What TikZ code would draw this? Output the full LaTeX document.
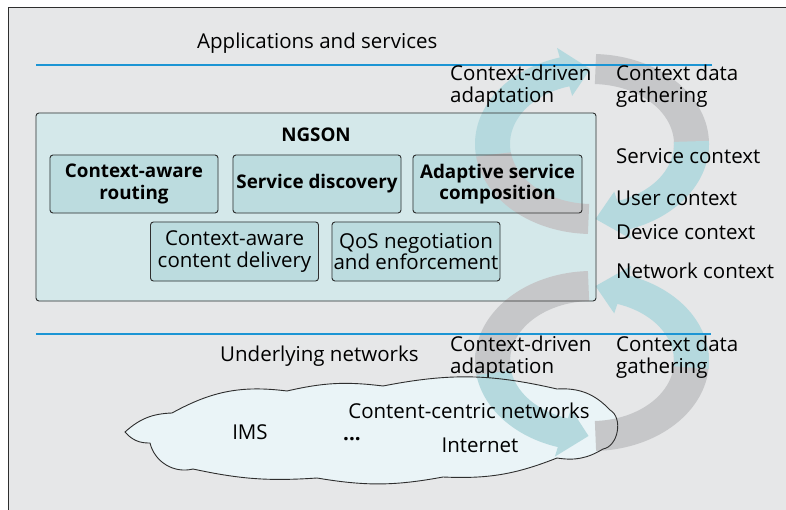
\documentclass[tikz,border=0pt]{standalone}
\usepackage{fontspec}
\setmainfont{Open Sans}
\usepackage{tikz}
\definecolor{paper}{HTML}{E6E7E8}
\definecolor{sepblue}{HTML}{1C95D4}
\definecolor{boxline}{HTML}{2E2E2E}
\definecolor{ngsonfill}{HTML}{D4E8EA}
\definecolor{modfill}{HTML}{BCDCDF}
\definecolor{cloudfill}{HTML}{EAF4F7}
\definecolor{bandgray}{HTML}{C6C7C9}
\definecolor{bandteal}{HTML}{B5D9DE}

\pgfdeclarelayer{back}
\pgfdeclarelayer{bands}
\pgfsetlayers{back,bands,main}

% ring pieces: center y, from angle, to angle, style
\newcommand{\ringband}[4]{%
  \fill[#4] plot[domain=#2:#3,samples=40] ({592+117*cos(\x)},{#1+90*sin(\x)})
    -- plot[domain=#3:#2,samples=40] ({592+82*cos(\x)},{#1+60*sin(\x)}) -- cycle;}
% center y, from angle, base angle, tip angle, style
\newcommand{\ringarrow}[5]{%
  \fill[#5] plot[domain=#2:#3,samples=40] ({592+117*cos(\x)},{#1+90*sin(\x)})
    -- ({592+127*cos(#3)},{#1+100*sin(#3)})
    -- ({592+99.5*cos(#4)},{#1+75*sin(#4)})
    -- ({592+72*cos(#3)},{#1+50*sin(#3)})
    -- plot[domain=#3:#2,samples=40] ({592+82*cos(\x)},{#1+60*sin(\x)}) -- cycle;}
\newcommand{\netcloud}[1]{%
  \path[#1] (125,432) to[bend left=20] (172,413) to[bend left=18] (287,391)
    to[bend left=10] (383,386) to[bend left=12] (557,389) to[bend left=25] (610,410)
    to[bend left=70] (603,449) to[bend left=20] (557,458) to[bend left=12] (443,477)
    to[bend left=10] (317,478) to[bend left=8] (193,469) to[bend left=45] (150,443)
    to[bend left=25] (125,432) -- cycle;}

\begin{document}
\begin{tikzpicture}[x=1pt,y=-1pt]
\tikzstyle{module} = [draw=boxline, line width=0.9pt, rounded corners=3pt, minimum width=168pt, minimum height=58pt, align=center, inner sep=1pt, font=\fontsize{20.5}{21.5}\selectfont]
\tikzstyle{keymodule} = [module, font=\bfseries\fontsize{18.8}{21.5}\selectfont]
\tikzstyle{txt} = [inner sep=0pt, align=left, font=\fontsize{20.5}{22}\selectfont]
\tikzstyle{layerline} = [draw=sepblue, line width=1.3pt]
\tikzstyle{gather} = [fill=bandgray]
\tikzstyle{adapt} = [fill=bandteal]

\useasboundingbox (0,0) rectangle (786,510);

% layers and titles
\node[txt, anchor=west] (apps) at (197,43) {Applications and services};
\node[txt, anchor=west] (under) at (220,356) {Underlying networks};
\draw[layerline] (36,65) -- (712,65);
\draw[layerline] (36,334) -- (711,334);

% NGSON
\node[draw=boxline, line width=0.9pt, rounded corners=3pt, minimum width=560pt, minimum height=188pt] (ngson) at (316,207) {};
\node[txt, font=\bfseries\fontsize{18.8}{21.5}\selectfont] (ngsontitle) at (316,135) {NGSON};
\node[keymodule] (route) at (134,184) {Context-aware\\routing};
\node[keymodule] (disc) at (317,184) {Service discovery};
\node[keymodule, minimum width=169pt] (comp) at (497.5,184) {Adaptive service\\composition};
\node[module, minimum height=59pt] (deliv) at (234.5,251.5) {Context-aware\\content delivery};
\node[module, minimum height=59pt] (qos) at (416,251.5) {QoS negotiation\\and enforcement};

% context labels
\node[txt, anchor=west] (adapttop) at (450,86) {Context-driven\\adaptation};
\node[txt, anchor=west] (gathertop) at (616,86) {Context data\\gathering};
\node[txt, anchor=west] (svc) at (616,156) {Service context};
\node[txt, anchor=west] (usr) at (616,198) {User context};
\node[txt, anchor=west] (dev) at (616,232) {Device context};
\node[txt, anchor=west] (netctx) at (616,271) {Network context};
\node[txt, anchor=west] (adaptbot) at (450,357) {Context-driven\\adaptation};
\node[txt, anchor=west] (gatherbot) at (616,357) {Context data\\gathering};

% networks
\netcloud{draw=boxline, line width=0.9pt}
\node[txt] (ims) at (250,432) {IMS};
\node[txt] (dots) at (352,439) {\textbf{...}};
\node[txt] (ccn) at (469,411) {Content-centric networks};
\node[txt] (inet) at (480,445) {Internet};

\begin{pgfonlayer}{back}
\fill[white] (0,0) rectangle (786,510);
\fill[paper] (8.5,7) rectangle (786,510);
\draw[boxline, line width=0.8pt] (8.5,510) -- (8.5,7) -- (786,7);
\fill[ngsonfill, rounded corners=3pt] (ngson.south west) rectangle (ngson.north east);
\foreach \m in {route,disc,comp,deliv,qos}
  \fill[modfill, rounded corners=3pt] (\m.south west) rectangle (\m.north east);
\netcloud{fill=cloudfill}
\end{pgfonlayer}

\begin{pgfonlayer}{bands}
% upper loop
\ringarrow{144}{168}{254}{269}{adapt}
\ringband{144}{92}{172}{gather}
\ringband{144}{272}{365}{gather}
\ringarrow{144}{-2}{72}{88}{adapt}
% lower loop
\ringarrow{361}{185}{107}{92}{adapt}
\ringband{361}{268}{171}{gather}
\ringband{361}{88}{-5}{gather}
\ringarrow{361}{5}{-72}{-88}{adapt}
\end{pgfonlayer}
\end{tikzpicture}
\end{document}
